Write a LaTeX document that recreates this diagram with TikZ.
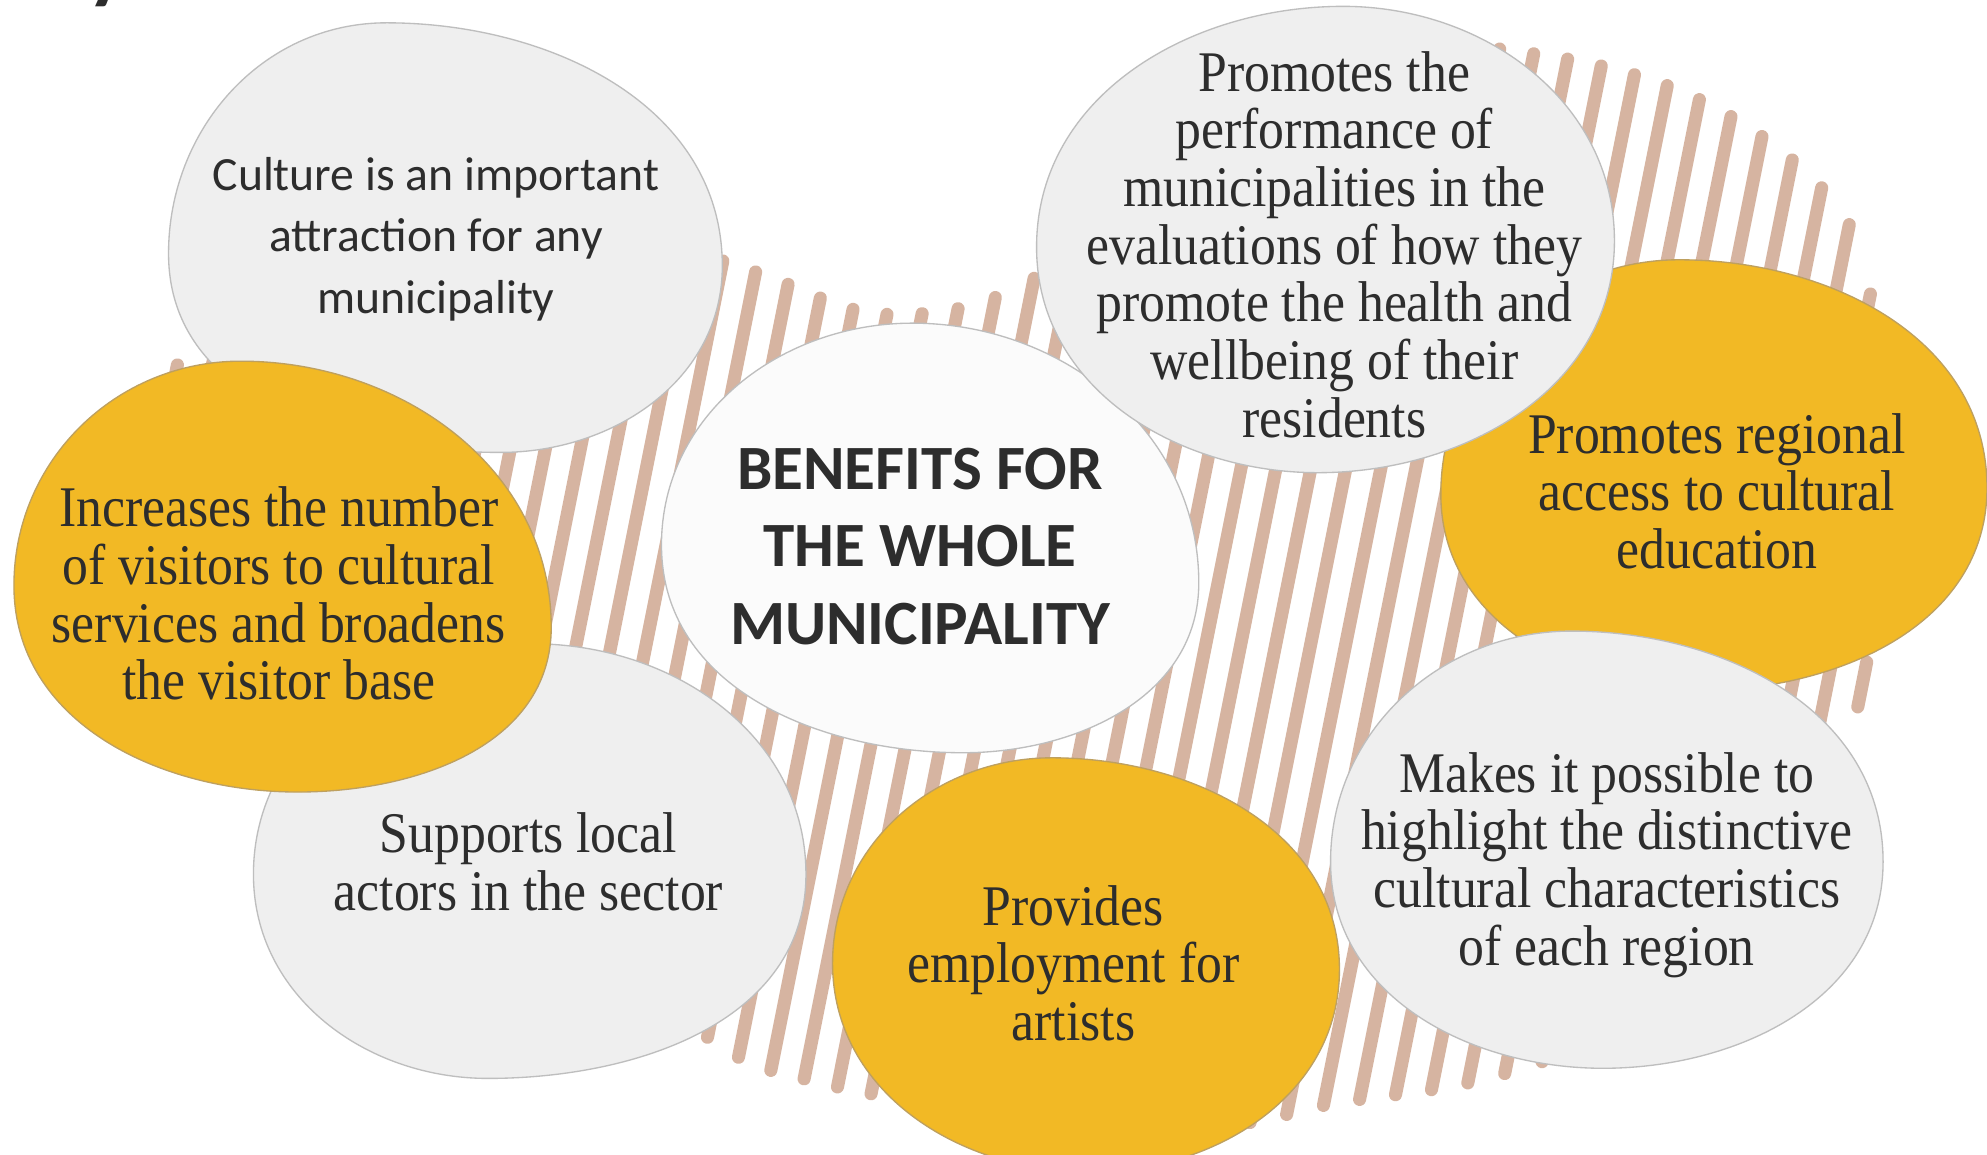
\documentclass[tikz,border=0pt]{standalone}
\usepackage{fontspec}
\setmainfont{Liberation Serif}[FakeStretch=0.9]
\newfontfamily\calib{Carlito}
\usetikzlibrary{intersections}
\definecolor{stripec}{RGB}{214,180,161}
\definecolor{gold}{RGB}{242,185,37}
\definecolor{goldedge}{RGB}{190,160,95}
\definecolor{blobgrey}{RGB}{239,239,239}
\definecolor{edgegrey}{RGB}{190,190,190}
\definecolor{centrefill}{RGB}{251,251,251}
\definecolor{txt}{RGB}{45,45,45}
% blob from its top, right, bottom and left extreme points
\newcommand{\myblob}[5]{%
  \draw[#1] (#2) to[out=0,in=90] (#3) to[out=-90,in=0] (#4)
    to[out=180,in=-90] (#5) to[out=90,in=180] (#2) -- cycle;}
\begin{document}
\begin{tikzpicture}[x=0.01cm,y=-0.01cm,
  stripe/.style={draw=stripec,line width=2.93pt,line cap=round,shorten <=1.45pt,shorten >=1.45pt},
  greyblob/.style={fill=blobgrey,draw=edgegrey,line width=0.3pt},
  goldblob/.style={fill=gold,draw=goldedge,line width=0.3pt},
  whiteblob/.style={fill=centrefill,draw=edgegrey,line width=0.3pt},
  serif/.style={text=txt,align=center,inner sep=0pt,font=\fontsize{12.9}{12.95}\selectfont},
  sanstext/.style={text=txt,align=center,inner sep=0pt,font=\calib\fontsize{10.7}{13.8}\selectfont},
  titletext/.style={text=txt,align=center,inner sep=0pt,font=\calib\bfseries\fontsize{14.15}{17.4}\selectfont}]
\useasboundingbox (0,0) rectangle (1568,911);
\fill[white] (0,0) rectangle (1568,911);

% stripe region
\path[name path=region] plot[smooth cycle, tension=0.6] coordinates {
 (140,285) (250,200) (470,175) (592,208) (700,243) (818,214) (950,90) (1100,35)
 (1215,38) (1330,68) (1425,130) (1472,205) (1490,380) (1460,585) (1400,760)
 (1200,848) (1050,876) (960,893) (800,885) (640,858) (555,822) (420,700)
 (300,500) (170,380)};
\foreach \i in {0,...,54} {
  \pgfmathsetmacro{\xa}{70+27.6*\i}
  \gdef\nt{0}
  \path[name path=sline] (\xa+110,-50) -- (\xa-92,960);
  \path[name intersections={of=sline and region, name=I, total=\t, sort by=sline}] \pgfextra{\xdef\nt{\t}};
  \ifnum\nt>1 \draw[stripe] (I-1) -- (I-\nt); \fi
}

% blobs (top, right, bottom, left)
\myblob{greyblob}{305,18}{570,210}{395,357}{133,200}
\myblob{greyblob}{420,508}{636,690}{385,851}{200,690}
\myblob{goldblob}{190,285}{435,495}{235,625}{11,462}
\myblob{whiteblob}{720,255}{946,460}{760,594}{522,430}
\myblob{goldblob}{1325,205}{1568,385}{1340,545}{1137,390}
\myblob{greyblob}{1060,5}{1274,190}{1040,373}{818,195}
\myblob{greyblob}{1240,498}{1486,680}{1265,843}{1050,680}
\myblob{goldblob}{830,598}{1057,765}{860,925}{657,760}

% texts
\node[text=txt,inner sep=0pt,anchor=base west,font=\calib\bfseries\fontsize{19}{19}\selectfont] (title) at (68,-5) {y};
\node[sanstext] (culture) at (344,188.5) {Culture is an important\\attraction for any\\municipality};
\node[serif] (visitors) at (220,468.5) {Increases the number\\of visitors to cultural\\services and broadens\\the visitor base};
\node[serif] (actors) at (417,680) {Supports local\\actors in the sector};
\node[titletext] (centre) at (726,431) {BENEFITS FOR\\THE WHOLE\\MUNICIPALITY};
\node[serif] (health) at (1053,193) {Promotes the\\performance of\\municipalities in the\\evaluations of how they\\promote the health and\\wellbeing of their\\residents};
\node[serif] (regional) at (1355,387.5) {Promotes regional\\access to cultural\\education};
\node[serif] (distinct) at (1268,682.5) {Makes it possible to\\highlight the distinctive\\cultural characteristics\\of each region};
\node[serif] (artists) at (847,760) {Provides\\employment for\\artists};
\end{tikzpicture}
\end{document}
